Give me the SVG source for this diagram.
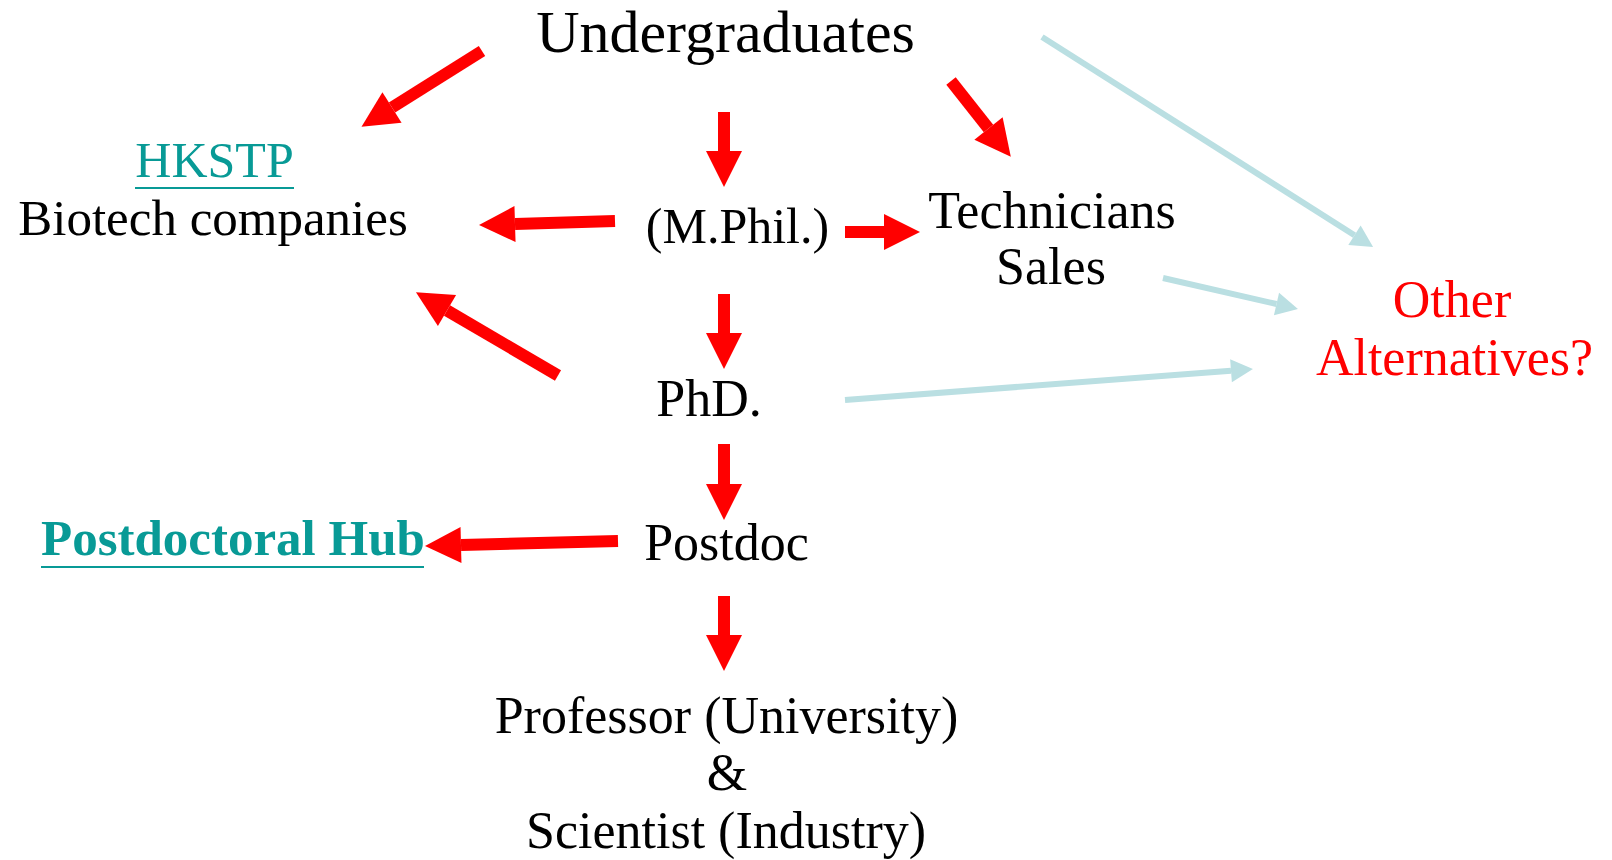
<svg xmlns="http://www.w3.org/2000/svg" width="1612" height="860" viewBox="0 0 1612 860">
  <style>
    text { font-family: "Liberation Serif", "Times New Roman", serif; text-anchor: middle; fill: #000; }
    .t52 { font-size: 52px; }
    .teal { fill: #089a96; }
    .alt { fill: #ff0000; font-size: 52px; }
    .red { stroke: #ff0000; stroke-width: 12; fill: none; marker-end: url(#redHead); }
    .blue { stroke: #badfe2; stroke-width: 6; fill: none; marker-end: url(#blueHead); }
    .ul { stroke: #089a96; stroke-width: 2; }
  </style>
  <defs>
    <marker id="redHead" markerUnits="userSpaceOnUse" markerWidth="37" markerHeight="36" refX="0" refY="18" orient="auto" overflow="visible">
      <path d="M0,0 L36,18 L0,36 Z" fill="#ff0000"/>
    </marker>
    <marker id="blueHead" markerUnits="userSpaceOnUse" markerWidth="23" markerHeight="23" refX="0" refY="11.5" orient="auto" overflow="visible">
      <path d="M0,0 L22,11.5 L0,23 Z" fill="#badfe2"/>
    </marker>
  </defs>
  <rect width="1612" height="860" fill="#ffffff"/>

  <g id="connectors">
    <line class="red" x1="482" y1="51" x2="392" y2="107.5"/>
    <line class="red" x1="724" y1="112" x2="724" y2="151"/>
    <line class="red" x1="951" y1="81" x2="988.5" y2="128.5"/>
    <line class="red" x1="615" y1="221" x2="515" y2="224"/>
    <line class="red" x1="845" y1="232" x2="884" y2="232"/>
    <line class="red" x1="724" y1="294" x2="724" y2="333"/>
    <line class="red" x1="558" y1="375.5" x2="447" y2="310.5"/>
    <line class="red" x1="724" y1="444" x2="724" y2="484"/>
    <line class="red" x1="618" y1="541" x2="461" y2="545"/>
    <line class="red" x1="724" y1="596" x2="724" y2="635"/>
    <line class="blue" x1="1042" y1="37" x2="1354.5" y2="235.2"/>
    <line class="blue" x1="1163" y1="278" x2="1276.5" y2="304"/>
    <line class="blue" x1="845" y1="400" x2="1231" y2="370.7"/>
  </g>

  <g id="undergraduates">
    <text x="725.5" y="52" font-size="60">Undergraduates</text>
  </g>
  <g id="biotech">
    <text class="teal" x="214.5" y="177" font-size="50">HKSTP</text>
    <line class="ul" x1="135" y1="188" x2="294" y2="188"/>
    <text x="213" y="235" font-size="51">Biotech companies</text>
  </g>
  <g id="mphil">
    <text x="737.5" y="243" font-size="50">(M.Phil.)</text>
  </g>
  <g id="technicians">
    <text class="t52" x="1052" y="228">Technicians</text>
    <text class="t52" x="1051" y="284">Sales</text>
  </g>
  <g id="other">
    <text class="alt" x="1452" y="317">Other</text>
    <text class="alt" x="1454.5" y="375">Alternatives?</text>
  </g>
  <g id="phd">
    <text class="t52" x="709" y="416">PhD.</text>
  </g>
  <g id="postdoc">
    <text class="t52" x="726.5" y="560">Postdoc</text>
  </g>
  <g id="hub">
    <text class="teal" x="41" y="555" font-size="51" font-weight="bold" style="text-anchor:start">Postdoctoral Hub</text>
    <line class="ul" x1="41" y1="567" x2="424" y2="567"/>
  </g>
  <g id="professor">
    <text class="t52" x="726.5" y="733">Professor (University)</text>
    <text class="t52" x="727" y="790">&amp;</text>
    <text class="t52" x="726" y="848">Scientist (Industry)</text>
  </g>
</svg>
